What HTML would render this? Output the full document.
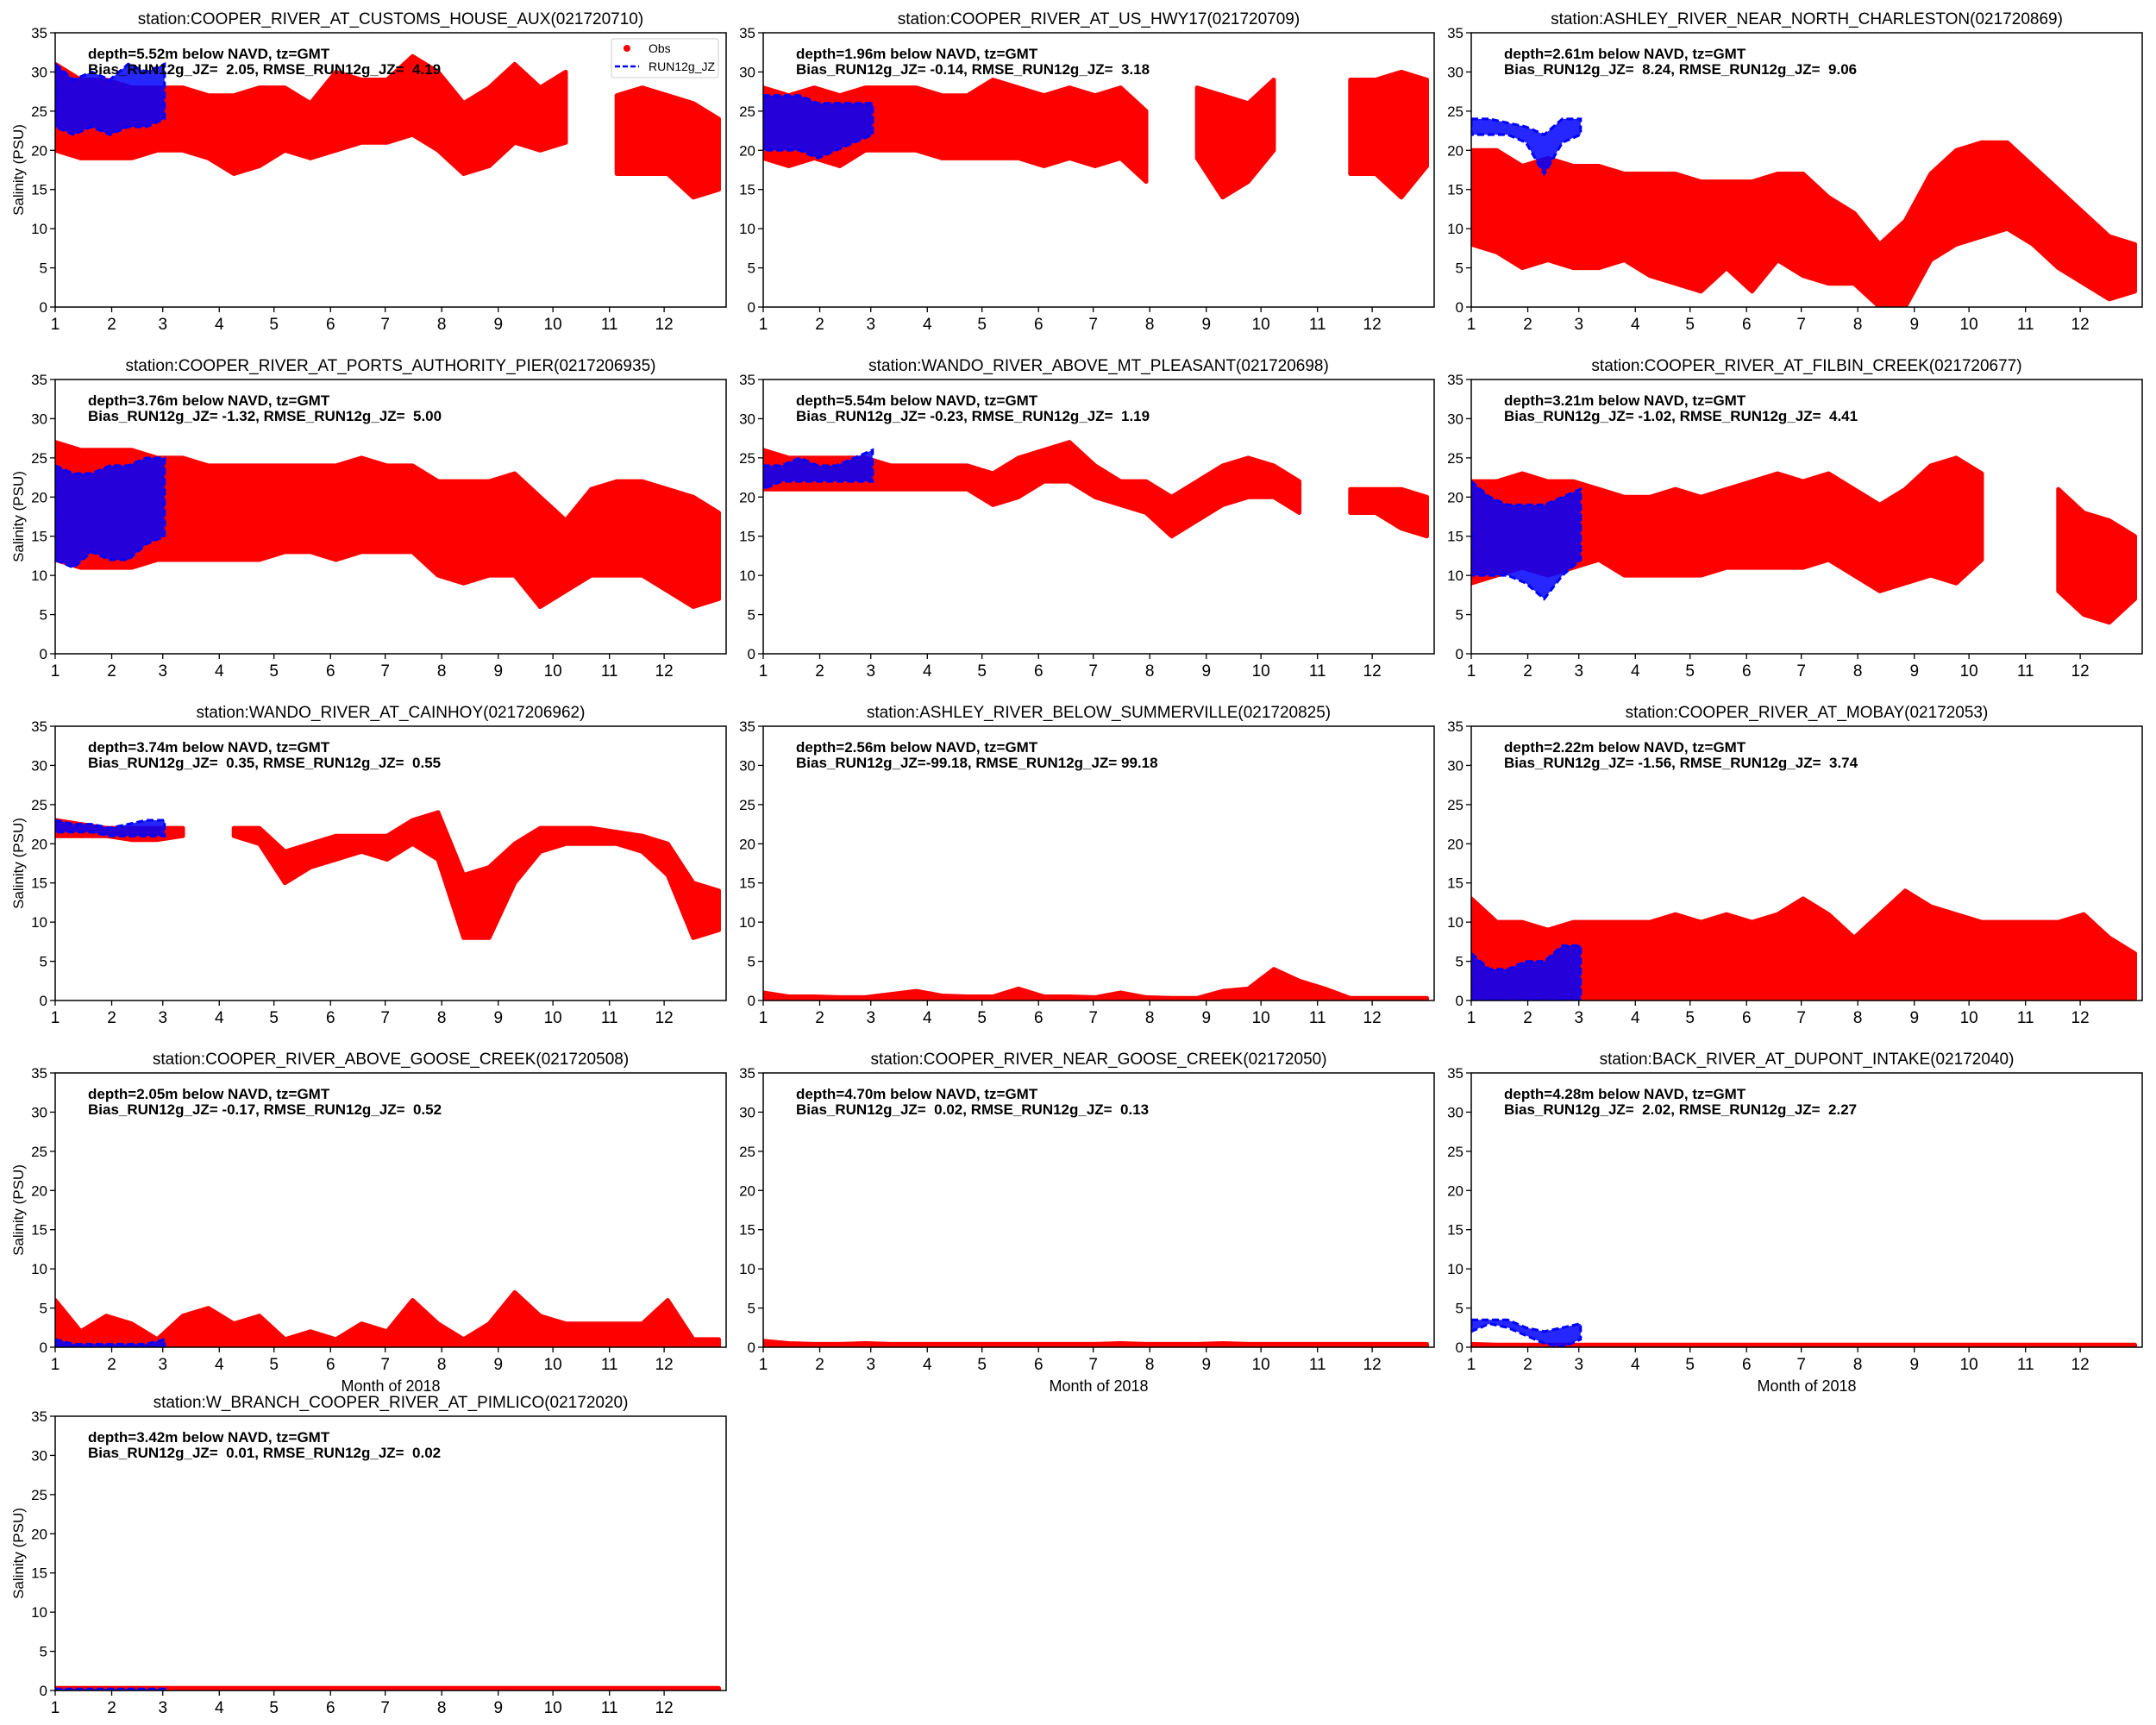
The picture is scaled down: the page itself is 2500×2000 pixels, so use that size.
<!DOCTYPE html>
<html><head><meta charset="utf-8"><style>
html,body{margin:0;padding:0;background:#fff;}
svg{display:block;font-family:"Liberation Sans",sans-serif;}
</style></head><body>
<svg id="fig" width="2500" height="2000" viewBox="0 0 2500 2000" xmlns="http://www.w3.org/2000/svg"></svg>
<script>
const days = [0,14,28,42,56,70,84,98,112,126,140,154,168,182,196,210,224,238,252,266,280,294,308,322,336,350,364];
const modelDays = [0,10,20,30,40,50,60];
const yTicks = [0,5,10,15,20,25,30,35];
const monthLabels = ["1","2","3","4","5","6","7","8","9","10","11","12"];
const monthStartDays = [0,31,59,90,120,151,181,212,243,273,304,334];
const titles = [
 "station:COOPER_RIVER_AT_CUSTOMS_HOUSE_AUX(021720710)",
 "station:COOPER_RIVER_AT_US_HWY17(021720709)",
 "station:ASHLEY_RIVER_NEAR_NORTH_CHARLESTON(021720869)",
 "station:COOPER_RIVER_AT_PORTS_AUTHORITY_PIER(0217206935)",
 "station:WANDO_RIVER_ABOVE_MT_PLEASANT(021720698)",
 "station:COOPER_RIVER_AT_FILBIN_CREEK(021720677)",
 "station:WANDO_RIVER_AT_CAINHOY(0217206962)",
 "station:ASHLEY_RIVER_BELOW_SUMMERVILLE(021720825)",
 "station:COOPER_RIVER_AT_MOBAY(02172053)",
 "station:COOPER_RIVER_ABOVE_GOOSE_CREEK(021720508)",
 "station:COOPER_RIVER_NEAR_GOOSE_CREEK(02172050)",
 "station:BACK_RIVER_AT_DUPONT_INTAKE(02172040)",
 "station:W_BRANCH_COOPER_RIVER_AT_PIMLICO(02172020)"];
const depthText = ["5.52","1.96","2.61","3.76","5.54","3.21","3.74","2.56","2.22","2.05","4.70","4.28","3.42"];
const biasText = ["2.05","-0.14","8.24","-1.32","-0.23","-1.02","0.35","-99.18","-1.56","-0.17","0.02","2.02","0.01"];
const rmseText = ["4.19","3.18","9.06","5.00","1.19","4.41","0.55","99.18","3.74","0.52","0.13","2.27","0.02"];
const N = null;
const obsLow = [
 [20,19,19,19,20,20,19,17,18,20,19,20,21,21,22,20,17,18,21,20,21,N,17,17,17,14,15],
 [19,18,19,18,20,20,20,19,19,19,19,18,19,18,19,16,N,19,14,16,20,N,N,17,17,14,18],
 [8,7,5,6,5,5,6,4,3,2,5,2,6,4,3,3,0,0,6,8,9,10,8,5,3,1,2],
 [12,11,11,11,12,12,12,12,12,13,13,12,13,13,13,10,9,10,10,6,8,10,10,10,8,6,7],
 [21,21,21,21,21,21,21,21,21,19,20,22,22,20,19,18,15,17,19,20,20,18,N,18,18,16,15],
 [9,10,11,10,11,12,10,10,10,10,11,11,11,11,12,10,8,9,10,9,12,N,N,8,5,4,7],
 [21,21,21,20.5,20.5,21,N,21,20,15,17,18,19,18,20,18,8,8,15,19,20,20,20,19,16,8,9],
 [0.1,0.1,0.1,0.1,0.1,0.1,0.2,0.1,0.1,0.1,0.1,0.1,0.1,0.1,0.1,0.1,0.1,0.1,0.1,0.1,0.3,0.3,0.2,0.1,0.1,0.1,0.1],
 [0,0,0,0,0,0,0,0,0,0,0,0,0,0,0,0,0,0,0,0,0,0,0,0,0,0,0],
 [0,0,0,0,0,0,0,0,0,0,0,0,0,0,0,0,0,0,0,0,0,0,0,0,0,0,0],
 [0,0,0,0,0,0,0,0,0,0,0,0,0,0,0,0,0,0,0,0,0,0,0,0,0,0,0],
 [0,0,0,0,0,0,0,0,0,0,0,0,0,0,0,0,0,0,0,0,0,0,0,0,0,0,0],
 [0,0,0,0,0,0,0,0,0,0,0,0,0,0,0,0,0,0,0,0,0,0,0,0,0,0,0]];
const obsHigh = [
 [31,29,29,28,28,28,27,27,28,28,26,30,29,29,32,30,26,28,31,28,30,N,27,28,27,26,24],
 [28,27,28,27,28,28,28,27,27,29,28,27,28,27,28,25,N,28,27,26,29,N,N,29,29,30,29],
 [20,20,18,19,18,18,17,17,17,16,16,16,17,17,14,12,8,11,17,20,21,21,18,15,12,9,8],
 [27,26,26,26,25,25,24,24,24,24,24,24,25,24,24,22,22,22,23,20,17,21,22,22,21,20,18],
 [26,25,25,25,25,24,24,24,24,23,25,26,27,24,22,22,20,22,24,25,24,22,N,21,21,21,20],
 [22,22,23,22,22,21,20,20,21,20,21,22,23,22,23,21,19,21,24,25,23,N,N,21,18,17,15],
 [23,22.5,22,22,22,22,N,22,22,19,20,21,21,21,23,24,16,17,20,22,22,22,21.5,21,20,15,14],
 [1,0.5,0.5,0.4,0.4,0.8,1.2,0.6,0.5,0.5,1.5,0.5,0.5,0.4,1,0.4,0.3,0.3,1.2,1.5,4,2.5,1.5,0.3,0.3,0.3,0.3],
 [13,10,10,9,10,10,10,10,11,10,11,10,11,13,11,8,11,14,12,11,10,10,10,10,11,8,6],
 [6,2,4,3,1,4,5,3,4,1,2,1,3,2,6,3,1,3,7,4,3,3,3,3,6,1,1],
 [0.8,0.5,0.4,0.4,0.5,0.4,0.4,0.4,0.4,0.4,0.4,0.4,0.4,0.4,0.5,0.4,0.4,0.4,0.5,0.4,0.4,0.4,0.4,0.4,0.4,0.4,0.4],
 [0.4,0.3,0.3,0.3,0.3,0.3,0.3,0.3,0.3,0.3,0.3,0.3,0.3,0.3,0.3,0.3,0.3,0.3,0.3,0.3,0.3,0.3,0.3,0.3,0.3,0.3,0.3],
 [0.3,0.3,0.3,0.3,0.3,0.3,0.3,0.3,0.3,0.3,0.3,0.3,0.3,0.3,0.3,0.3,0.3,0.3,0.3,0.3,0.3,0.3,0.3,0.3,0.3,0.3,0.3]];
const modelLow = [
 [23,22,23,22,23,23,24],[20,20,20,19,20,21,22],[22,22,22,21,17,21,22],[12,11,13,12,12,14,15],
 [21,22,22,22,22,22,22],[10,10,10,9,7,10,12],[21.5,21.5,21.5,21,21,21,21],N,
 [0,0,0,0,0,0,0],[0,0,0,0,0,0,0],N,[2,3,2.5,1.5,0.5,0,1],[0,0,0,0,0,0,0]];
const modelHigh = [
 [31,29,30,29,31,30,31],[27,27,27,26,26,26,26],[24,24,23.5,23,22,24,24],[24,23,23,24,24,25,25],
 [24,24,25,24,24,25,26],[22,20,19,19,19,20,21],[23,22.5,22.5,22,22.5,23,23],N,
 [6,4,4,5,5,7,7],[1,0.4,0.4,0.4,0.4,0.4,1],N,[3.5,3.5,3.5,2.5,2,2.5,3],[0.2,0.2,0.2,0.2,0.2,0.2,0.2]];

const NS = "http://www.w3.org/2000/svg";
const svg = document.getElementById("fig");
const colX = [64, 885, 1706];
const rowY = [38, 440, 842, 1244, 1642];
const W = 778, H = 318, DMAX = 368, YMAX = 35;
function mk(tag, attrs, parent){
  const e = document.createElementNS(NS, tag);
  for (const k in attrs) e.setAttribute(k, attrs[k]);
  (parent||svg).appendChild(e); return e;
}
function pad6(s){ while (s.length < 6) s = " " + s; return s; }
function nb(s){ return s.replace(/ /g, "\u00A0"); }
function bandPaths(xs, lo, hi, sx, sy){
  const segs = []; let cur = [];
  for (let i=0;i<xs.length;i++){
    if (lo[i]===null || hi[i]===null){ if (cur.length) segs.push(cur); cur=[]; }
    else cur.push(i);
  }
  if (cur.length) segs.push(cur);
  return segs.map(s=>{
    let d = "";
    s.forEach((i,k)=>{ d += (k?"L":"M")+sx(xs[i]).toFixed(1)+","+sy(hi[i]).toFixed(1); });
    for (let k=s.length-1;k>=0;k--){ const i=s[k]; d += "L"+sx(xs[i]).toFixed(1)+","+sy(lo[i]).toFixed(1); }
    return d+"Z";
  });
}
titles.forEach((t, p)=>{
  const col = p%3, row = Math.floor(p/3);
  const x0 = colX[col], y0 = rowY[row];
  const sx = d => x0 + d/DMAX*W;
  const sy = v => y0 + H - v/YMAX*H;
  const g = mk("g", {});
  
  
  const clipId = "clip"+p;
  const cp = mk("clipPath", {id: clipId}, g);
  mk("rect", {x:x0, y:y0, width:W, height:H}, cp);
  const plot = mk("g", {"clip-path":"url(#"+clipId+")"}, g);
  bandPaths(days, obsLow[p], obsHigh[p], sx, sy).forEach(d=>{
    const el = mk("path", {d:d, fill:"#ff0000", stroke:"#ff0000", "stroke-width":5, "stroke-linejoin":"round"}, plot);
    
    
  });
  if (modelLow[p]){
    bandPaths(modelDays, modelLow[p], modelHigh[p], sx, sy).forEach(d=>{
      const el = mk("path", {d:d, fill:"#0000ff", "fill-opacity":0.85, stroke:"#0000ff", "stroke-width":3, "stroke-dasharray":"8,4"}, plot);
      
      
    });
  }
  const frame = mk("rect", {x:x0, y:y0, width:W, height:H, fill:"none", stroke:"#000", "stroke-width":1.5}, g);
  
  
  yTicks.forEach(v=>{
    mk("line", {x1:x0-6, x2:x0, y1:sy(v), y2:sy(v), stroke:"#000", "stroke-width":1.3}, g);
    const tl = mk("text", {x:x0-9, y:sy(v)+6, "text-anchor":"end", "font-size":17}, g);
    tl.textContent = v;
    
    
  });
  monthStartDays.forEach((d,i)=>{
    mk("line", {x1:sx(d), x2:sx(d), y1:y0+H, y2:y0+H+6, stroke:"#000", "stroke-width":1.3}, g);
    const tl = mk("text", {x:sx(d), y:y0+H+26, "text-anchor":"middle", "font-size":19}, g);
    tl.textContent = monthLabels[i];
    
    
  });
  const tt = mk("text", {x:x0+W/2, y:y0-10, "text-anchor":"middle", "font-size":19}, g);
  tt.textContent = t;
  
  
  const a1 = mk("text", {x:x0+38, y:y0+30, "font-size":17, "font-weight":"bold"}, g);
  a1.textContent = "depth="+depthText[p]+"m below NAVD, tz=GMT";
  
  
  const a2 = mk("text", {x:x0+38, y:y0+48, "font-size":17, "font-weight":"bold"}, g);
  a2.textContent = nb("Bias_RUN12g_JZ="+pad6(biasText[p])+", RMSE_RUN12g_JZ="+pad6(rmseText[p]));
  
  
  if (col===0){
    const yl = mk("text", {x:0, y:0, transform:"translate(27,"+(y0+H/2)+") rotate(-90)", "text-anchor":"middle", "font-size":17}, g);
    yl.textContent = "Salinity (PSU)";
    
    
  }
  if (row===3){
    const xl = mk("text", {x:x0+W/2, y:y0+H+51, "text-anchor":"middle", "font-size":18}, g);
    xl.textContent = "Month of 2018";
    
    
  }
  if (p===0){
    const lg = mk("g", {}, g);
    
    
    mk("rect", {x:709, y:45, width:124, height:45, rx:3, fill:"#fff", "fill-opacity":0.8, stroke:"#ccc", "stroke-width":1}, lg);
    mk("circle", {cx:727, cy:56, r:4, fill:"#ff0000"}, lg);
    const l1 = mk("text", {x:752, y:61, "font-size":14}, lg);
    l1.textContent = "Obs";
    
    
    mk("line", {x1:713, x2:741, y1:77, y2:77, stroke:"#0000ff", "stroke-width":2.5, "stroke-dasharray":"6,3"}, lg);
    const l2 = mk("text", {x:752, y:82, "font-size":14}, lg);
    l2.textContent = "RUN12g_JZ";
    
    
  }
});
</script>
</body></html>
